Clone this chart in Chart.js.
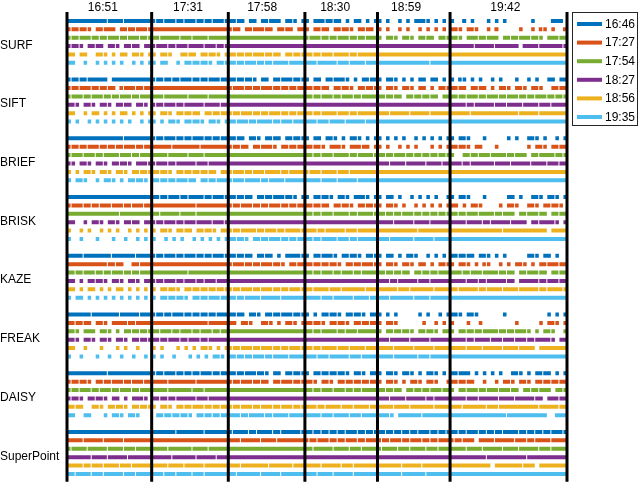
<!DOCTYPE html>
<html>
<head>
<meta charset="utf-8">
<script src="https://cdn.jsdelivr.net/npm/chart.js@4"></script>
<style>
  html, body { margin: 0; padding: 0; background: #fff; }
  canvas { display: block; }
</style>
</head>
<body>
<canvas id="c" width="640" height="489"></canvas>
<script>
// query sequences (top labels) and their lengths in frame-cells
const querySeqs = ["16:51", "17:31", "17:58", "18:30", "18:59", "19:42"];
const segLens = [21, 19, 19, 18, 18, 29];
const labelPos = [8.9, 30.0, 48.4, 66.5, 84.1, 108.7];

// reference sequences (legend)
const refSeqs = ["16:46", "17:27", "17:54", "18:27", "18:56", "19:35"];
const refColors = ["#0072BD", "#D95319", "#77AC30", "#7E2F8E", "#EDB120", "#4DBEEE"];

const methods = ["SURF", "SIFT", "BRIEF", "BRISK", "KAZE", "FREAK", "DAISY", "SuperPoint"];

// match rows: '#' matched, '-' matched (new run), '.' no match ; '|' splits query sequences
const surf = [
  "##########-###-######|#-#-##-#-##-#-#-##-#|-#-#.-#.-#-##.-#-.-|-.-##-#-#.-.-#.-.-|-.-..-.-.-##-.-.-.|-..#.-...-.-.-......-....###.-",
  "#-#-#-.-#-##.-#-#-##-|####################|#-#.-#-##-#.-#-#.-#|-.-#-#.-#-#-.-#-#.|-.-..-.-..-.-.-.-.|-#-.-#-..-.#.....-..-.#-.-..##",
  "#-#-##-#-#-##-#-##-#-|##-####-##-###-#####|###################|#-##-#-#-##-#-#-##|-.-#-.-#-.-#-#.-#-|-#-.-##-#-##.-#-#-##-#-.-##-#-",
  "#-#-.-#-#.-#-.-#-#.-#|#-##-#-##-###-##-#-#|###################|##################|##################|######-####-#####.####-#####-#",
  "-#.-#..-#-.-.-#.-#-.-|-.-#-..-#-#.-#-#-.-#|-#-#-#-##-#-#.-#-#-|##-#-##-###-#-####|##################|##############################",
  "-#..-..-.-.-.-..-.-.-|-.-#..-.-#-#-#-.-#-.|-#-#-##-#-#-###-###|###-####-##-###-##|#############-####|##############################"
];
const sift = [
  "#-#-#-####.-#########|#-#-#-#-##-#-#-##-#-|-#-#-#-.-#.-#-##-#-|-.-#.-#-##-.-.-#-#|-.-#-.-.-.-#.-#.-.|-.#-.-.-..-.-...-..-.-..-#.-#",
  "#-#-##-#-#-#.#-##-#-#|####################|#-##-#-#-##-#-#-#-#|-#-#-#.-#-#-.-#-#-|-.-#-.-#-.-#.-.-#-|-#-#.-#-#.-.-#-.-#-.-#-..-#-#-",
  "#-##-#-##-#-#-##-#-##|###-#####-####-#####|###################|##-#-##-#-##-#-###|-#-#-#.-#-#-#-#.-#|-#-#-##-#-##-#-##-#-#-##-#-#-#",
  "-#-.-#-.-#-.-#-#.-#-.|#-#-##-#-####-###-###|###################|##################|##################|####-#-####-##-###-###-##-###-",
  "-#..-.-#.-.-.-#.-.-.-|-.-#-.-#-#-#.-#-#-#.|#-#-##-#-#-##-#-#-#|##-#-###-##-#-####|###-####-####-####|#####-###########-####-#######",
  "-.-..-.-.-.-.-.-..-.-|-.-.-#-.-#-#-.-#-.-#|-#-##-#-###-#-##-##|###-##-###-####-##|##################|##############################"
];
const brief = [
  "##############-######|#-#-##-#-#-##-#-#-#-|-#-#.-#-.-#-#.-#-#-|-.-#.-#-.-.-#-.-.-|-.-.-.-..-.-.-.-.-|-.-#-...-.....-.-..-#-.-..-.-#",
  "#-#-#-##-#-#-#-##-#-#|#####-######-#######|#-#-#.-#-##-.-#-#-#|-#-#-.-##-.-##-#.-|-.-..-.-.-...-.-.-|-#-#-.-#...-.......-.-#-.-#-#-",
  "#-##-##-#-###-##-#-##|####-####-###-######|###################|##-#-##-###-#-###-|-#-#-##-#-#-#-#-#-|-..-#-#-##-###-#-##.-#-###-#-#",
  "#-.-#-.-#-.-#-#-.-##-|#-##-#-####-##-#####|###################|##################|###-###-####-###-#|###-#-#####-###-####-###-##-#-",
  "-.-.-#-.-#-.-#-.-#-#-|-#-#-.-#-#-#-#-#.-#-|#-##-#-##-###-#-###|#-##-###-##-######|##################|##############################",
  "-.-#-..-.-#-.-.-#-#-.|-#-#-#-##-#.-#-#-##-|#-##-###-#-###-####|####-###-####-####|##################|##############################"
];
const brisk = [
  "#####################|##-#-##-#-###-#-##-#|-#-#-#.-#-#-##-#-.-|-.-#-#-.-#-.-##-.-|-.-#.-..-.-.-.-..-|-.-#-...-.....-#.-..-#-.-#-.-#",
  "#-##-#-#-##-##-#-##-#|###########-########|#-#-##-#-#-##-#-#-#|-#-#-#.-#-#-.-#-#-|-.-#-.-..-.-.-.-.-|-#.-.-#-....-.-#-..-#-.-#-#-.#",
  "#############-#######|##-####-###-########|###################|##-#-##-###-#-###-|-#-#-#-##-#-#-#-#-|-#-#-##-###-#-##.-#-##-#.-#-##",
  "##..-.-#-.-#-.-#-#.-#|#-#-##-#-##-###-##-#|###################|##################|####-####-###-####|####-###-#-####-###.-#-###-.-#",
  "-..-.-..-.-.-..-.-.-.|-.-#-.-#-#.-#-#-.-#-|#-#-###-#-##-#-###-|###-#-####-##-####|##########-#######|#############-##########.-####",
  "-..-...-...-..-..-.-.|-..-.-.-..-.-.-.-.-.|-#-#-.-#-#-##-#-#-#|##-#-###-##-#-####|###-#####-####-###|##############################"
];
const kaze = [
  "####-######-#####-###|#-#-##-#-##-#-#-##-#|-#-#-#.-#-#.-.-###-|-.-#-##-.-#-#-.-#-|-.-#.-.-#-..-.-.-.|-#-#-#.-#-.-.-.....-#-.-#.-..-",
  "##########-#-#..##-##|####################|#-##-#-#-##-#-.-#-#|-#-#-#-#-.-#-#-##-|-.-#-.-#-.-#.-.-#-|-.-#-.-.#-..-.-.-#-.-.-#-##-#-",
  "##-#-##-#-#-##-#-#-##|#########-##########|###################|##-#-##-#-##-#-###|-#-#-#-#.-#-#-#-##|-##-#-##-###-#-#.-#-##-#.-#-##",
  "##.-.-#-#-.-#-.-#-.-#|#-#-##-#-##-#-##-##-|###################|##################|###-#-####-##-####|####-##-#-####-#.-####-#-##-#-",
  "-#.-.-#.-.-.-#.-.-.-.|-.-#-#-.-#-#-#-#-#-.|#-#-##-#-##-#-#-##-|##-###-##-#####-##|#####-##-#####-###|##-####-#-###-###-####-#-###-#",
  "-.-#.-.-.-.-.-.-.-.-.|-.-#-#-#-.-#-#-##-#-|##-#-###-####-#####|####-##-####-###-#|###-#####-###-####|##############################"
];
const freak = [
  "######-######-####-##|#-#-#-##-#-#-#-#-##-|-#-#.-#-.-#-#-##-#-|-.-.-#-#-.-#-#-.-#|-.-.-.....-.-..-.-|-#-.-#-......-..........-.-.-.",
  "##-#-#.-#-.-###-#-###|##############-#####|-#.-#-..-#-.-.-#-.-|-#-#-.-#-#-.-#-#-#|-.-#-......-..-.-.|-...-..-........-.....-.-#-.-.",
  "-#-.-##.-#-.-.-#-#-#-|-#-##-#-##-#-##-#-##|###################|##-#-###-#-##-####|-.-#-#-#-.-#-#-.-#|-.-#-#-#-###-#-#-##-.-.-#-..-#",
  "-#-.-#-.-#-.-#-.-#-#-|-#-#-##-#-##-#-####-|###################|##################|###-####-####-####|####-#-###-##-##-##-#-###-.-#-",
  "-#..-...-...-.-..-...|-.-...-.-.-.-#-.-.-#|#-#-##-#-##-#-#-##-|##-#-###-##-###-##|####-####-####-###|####-###-####-###-###.-######-",
  "-..-...-..-..-..-..-.|-.-..-...-.-.-.-#-.-|-#-#-#-##-#-###-###|###-##-####-##-###|####-#####-##-####|##############################"
];
const daisy = [
  "##########-##########|#-#-##-#-#-#-##-#-#-|-#-#-##-#-.-#.-#-#-|-.-#-#-#-#-.-#-.-#|-.-#-.-#-.-.-#-.-.|-#-##.-.-.-.-..-#-.-.-#-#.-.-#",
  "#-#-#-.-#-#-##-#-##-#|####-######-########|#-#-##-#-#.-#-##-#-|-#-.-#-.-#-#-#-#-#|-.-#-.-.-#-.-#-..-|-#-#-#..-..-.-#-.-#-.-#-#-#-#-",
  "#-#-##-#-##-#-##-#-##|####-#####-##-######|###################|##-#-##-##-#-#-###|-#-#-#.-#-#-#-##-#|-.-#-##-#-##-##-#.-#-#-##.-#-#",
  "#-#-.-#-#-.-#.-.-##-.|-#-#-#-####-##-#####|###################|##################|###-###-####-#-###|####-##-####-###-####-#.-##-#-",
  "-#-#..-#-.-#-#-.-#-#-|-.-#-.-#-#-##-#-#-##|#-#-##-#-##-#-##-#-|###-#-###-##-###-#|####-###-#####-###|###-#####-##-#########-####-##",
  "-#..-#...-.-#-.-#-...|.-#-#-#-#-.-#-#-#-#-|-##-#-###-#-###-###|####-##-###-##-###|###-.-#####-######|##############-#########..####"
];
const superpoint = [
  "#####################|######-######-######|#-###-#-###-#-####-|-#-#-#-#-#-##-#-#-|-#-#-#-#-#-##-#-#-|-#-#-##-#-#-#-###-#-#-#-#-##-#",
  "####-####-####-######|####################|###-####-###-######|#-#-##-#-#-##-#-##|#-#-##-#-##-#-#-##|#-#-##.-###-####-##-#-###-####",
  "#-###-####-###-##-###|####-#####-###-#####|###################|##-####-###-##-###|#-###-##-###-##-##|####-###-####-###-####-##-####",
  "######-###-####-#####|#####-#####-####-###|###################|##################|##################|#########-#########-#########-",
  "####-#-##-###-##-####|####-###-####-######|###-######-#####-##|####-####-##-#####|######-####-######|##########.-######-##.-#######",
  "##-###-##-####-##-###|###-##-###-##-######|##-#####-####-#####|###-###-####-#####|######-#####-#####|##############################"
];
const matchRows = [surf, sift, brief, brisk, kaze, freak, daisy, superpoint];

const ROWS_PER_GROUP = 7; // 6 refs + spacer
const totalCells = segLens.reduce((a, b) => a + b, 0);
const bounds = [0];
segLens.forEach((n) => bounds.push(bounds[bounds.length - 1] + n));

function rowCells(str) {
  const parts = str.split("|");
  let out = "";
  segLens.forEach((n, k) => {
    let s = (parts[k] || "").slice(0, n);
    while (s.length < n) s += ".";
    out += s;
  });
  return out;
}

function cellsToPoints(cells, y) {
  const pts = [];
  let open = false;
  for (let i = 0; i < cells.length; i++) {
    const c = cells[i];
    if (c === ".") {
      if (open) {
        pts.push({ x: i, y });
        pts.push({ x: i, y: null });
        open = false;
      }
      continue;
    }
    if (c === "-" && open) {
      pts.push({ x: i - 0.12, y });
      pts.push({ x: i, y: null });
      open = false;
    }
    if (!open) {
      pts.push({ x: i + (c === "-" ? 0.12 : 0), y });
      open = true;
    }
  }
  if (open) pts.push({ x: cells.length, y });
  return pts;
}

const datasets = [];
matchRows.forEach((rows, g) => {
  rows.forEach((str, r) => {
    datasets.push({
      label: methods[g] + " " + refSeqs[r],
      data: cellsToPoints(rowCells(str), g * ROWS_PER_GROUP + r),
      borderColor: refColors[r],
      borderWidth: 4,
      borderCapStyle: "butt",
      pointRadius: 0,
      spanGaps: false,
      tension: 0,
      order: 2,
    });
  });
});

const Y_MIN = -1.06;
const Y_MAX = 54.94;

bounds.forEach((b) => {
  datasets.push({
    label: "sep",
    data: [{ x: b, y: Y_MIN }, { x: b, y: Y_MAX }],
    borderColor: "#000",
    borderWidth: 3,
    borderCapStyle: "butt",
    pointRadius: 0,
    clip: false,
    order: 0,
  });
});

const FONT = "'Liberation Sans', Arial, sans-serif";

const legendBox = {
  id: "legendBox",
  afterDraw(chart) {
    const ctx = chart.ctx;
    ctx.save();
    ctx.strokeStyle = "#262626";
    ctx.lineWidth = 1;
    ctx.strokeRect(572.5, 12.5, 65, 113);
    ctx.font = "12px " + FONT;
    ctx.textBaseline = "middle";
    ctx.fillStyle = "#000";
    refSeqs.forEach((lab, i) => {
      const y = 24 + i * 18.6;
      ctx.strokeStyle = refColors[i];
      ctx.lineWidth = 4;
      ctx.beginPath();
      ctx.moveTo(577, y);
      ctx.lineTo(602, y);
      ctx.stroke();
      ctx.fillText(lab, 605, y + 0.5);
    });
    ctx.restore();
  },
};

new Chart(document.getElementById("c"), {
  type: "line",
  data: { datasets },
  options: {
    responsive: false,
    animation: false,
    events: [],
    layout: { padding: { top: 0, right: 73, bottom: 1, left: 0 } },
    plugins: { legend: { display: false }, tooltip: { enabled: false } },
    scales: {
      x: {
        type: "linear",
        position: "top",
        min: 0,
        max: totalCells,
        grid: { display: false, drawTicks: false },
        border: { display: false },
        afterBuildTicks: (s) => { s.ticks = labelPos.map((v) => ({ value: v })); },
        afterFit: (s) => { s.height = 12; },
        ticks: {
          autoSkip: false,
          maxRotation: 0,
          padding: -3,
          color: "#000",
          font: { family: FONT, size: 12 },
          callback: (v, i) => querySeqs[i],
        },
      },
      y: {
        type: "linear",
        reverse: true,
        min: Y_MIN,
        max: Y_MAX,
        grid: { display: false, drawTicks: false },
        border: { display: false },
        afterBuildTicks: (s) => {
          s.ticks = methods.map((m, g) => ({ value: g * ROWS_PER_GROUP + 2.9 }));
        },
        afterFit: (s) => { s.width = 67; },
        ticks: {
          autoSkip: false,
          crossAlign: "far",
          padding: 0,
          color: "#000",
          font: { family: FONT, size: 12 },
          callback: (v, i) => methods[i],
        },
      },
    },
  },
  plugins: [legendBox],
});
</script>
</body>
</html>
